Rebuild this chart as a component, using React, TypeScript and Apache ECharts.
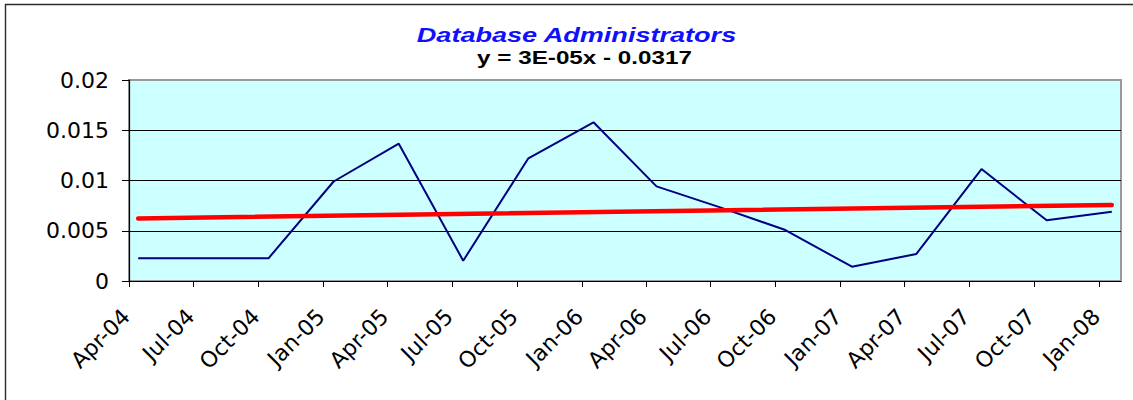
import React, { useEffect, useRef } from 'react';
import * as echarts from 'echarts';

const titleText = 'Database Administrators';
const equationText = 'y = 3E-05x - 0.0317';

const dates = [
  '2004-04-14', '2004-07-15', '2004-10-15', '2005-01-15',
  '2005-04-17', '2005-07-17', '2005-10-17', '2006-01-17',
  '2006-04-16', '2006-07-16', '2006-10-15', '2007-01-17',
  '2007-04-18', '2007-07-19', '2007-10-19', '2008-01-19',
];
const values = [
  0.00226, 0.00226, 0.00226, 0.0099,
  0.01366, 0.00202, 0.01221, 0.01579,
  0.00942, 0.0073, 0.00507, 0.00142,
  0.00269, 0.01114, 0.00604, 0.0069,
];
const tickDates = [
  '2004-04-01', '2004-07-01', '2004-10-01', '2005-01-01',
  '2005-04-01', '2005-07-01', '2005-10-01', '2006-01-01',
  '2006-04-01', '2006-07-01', '2006-10-01', '2007-01-01',
  '2007-04-01', '2007-07-01', '2007-10-01', '2008-01-01',
];
const tickLabels = [
  'Apr-04', 'Jul-04', 'Oct-04', 'Jan-05', 'Apr-05', 'Jul-05', 'Oct-05', 'Jan-06',
  'Apr-06', 'Jul-06', 'Oct-06', 'Jan-07', 'Apr-07', 'Jul-07', 'Oct-07', 'Jan-08',
];
const xMinDate = '2004-04-01';
const xMaxDate = '2008-02-01';
const yMin = 0;
const yMax = 0.02;
const yStep = 0.005;

function ts(d: string): number {
  const [y, m, day] = d.split('-').map(Number);
  return Date.UTC(y, m - 1, day);
}

function regression(xs: number[], ys: number[]) {
  const n = xs.length;
  const mx = xs.reduce((a, b) => a + b, 0) / n;
  const my = ys.reduce((a, b) => a + b, 0) / n;
  let sxy = 0;
  let sxx = 0;
  for (let i = 0; i < n; i++) {
    sxy += (xs[i] - mx) * (ys[i] - my);
    sxx += (xs[i] - mx) * (xs[i] - mx);
  }
  const slope = sxy / sxx;
  return (x: number) => my + slope * (x - mx);
}

export default function App() {
  const ref = useRef<HTMLDivElement>(null);

  useEffect(() => {
    if (!ref.current) return;
    const chart = echarts.init(ref.current, null, { renderer: 'svg' });
    const xs = dates.map(ts);
    const seriesData = xs.map((x, i) => [x, values[i]]);
    const fit = regression(xs, values);
    const first = xs[0];
    const last = xs[xs.length - 1];
    const trendData = [
      [first, fit(first)],
      [last, fit(last)],
    ];
    const tickTs = tickDates.map(ts);
    const labelFor = (v: number) => {
      const idx = tickTs.findIndex((t) => Math.abs(t - v) < 3600000);
      return idx >= 0 ? tickLabels[idx] : '';
    };

    chart.setOption({
      animation: false,
      backgroundColor: '#ffffff',
      grid: {
        left: 129,
        top: 80,
        width: 992,
        height: 201,
        show: true,
        backgroundColor: '#CCFFFF',
        borderColor: '#999999',
        borderWidth: 2,
      },
      graphic: [
        {
          type: 'rect',
          shape: { x: 5.5, y: 4.5, width: 1300, height: 600 },
          style: { fill: 'none', stroke: '#2a2a2a', lineWidth: 1.4 },
          silent: true,
        },
        {
          type: 'text',
          x: 576.5,
          y: 34.5,
          scaleX: 1.29,
          style: {
            text: titleText,
            fill: '#1010FF',
            font: 'italic bold 21px "Liberation Sans", Arial, sans-serif',
            textAlign: 'center',
            textVerticalAlign: 'middle',
          },
        },
        {
          type: 'text',
          x: 584.5,
          y: 58,
          scaleX: 1.31,
          style: {
            text: equationText,
            fill: '#000000',
            font: 'bold 18.5px "Liberation Sans", Arial, sans-serif',
            textAlign: 'center',
            textVerticalAlign: 'middle',
          },
        },
      ],
      xAxis: {
        type: 'value',
        min: ts(xMinDate),
        max: ts(xMaxDate),
        axisLine: { show: true, onZero: false, lineStyle: { color: '#000000', width: 1.2 } },
        axisTick: {
          show: true,
          customValues: tickTs,
          length: 6,
          lineStyle: { color: '#000000', width: 1 },
        },
        axisLabel: {
          customValues: tickTs,
          rotate: 45,
          margin: 29,
          padding: [0, 4, 0, 0],
          formatter: (v: number) => labelFor(v),
          color: '#000000',
          fontFamily: 'DejaVu Sans',
          fontSize: 22,
        },
        splitLine: { show: false },
      },
      yAxis: {
        type: 'value',
        min: yMin,
        max: yMax,
        interval: yStep,
        axisLine: { show: true, lineStyle: { color: '#000000', width: 1.2 } },
        axisTick: { show: true, length: 7, lineStyle: { color: '#000000', width: 1 } },
        axisLabel: {
          margin: 20,
          color: '#000000',
          fontFamily: 'DejaVu Sans',
          fontSize: 22,
          formatter: (v: number) => String(parseFloat(v.toFixed(4))),
        },
        splitLine: {
          show: true,
          showMaxLine: false,
          lineStyle: { color: '#000000', width: 1 },
        },
      },
      series: [
        {
          type: 'line',
          data: seriesData,
          symbol: 'none',
          lineStyle: { color: '#000080', width: 2 },
          z: 3,
        },
        {
          type: 'line',
          data: trendData,
          symbol: 'none',
          lineStyle: { color: '#FF0000', width: 4.5, cap: 'round' },
          z: 4,
        },
      ],
    });

    return () => {
      chart.dispose();
    };
  }, []);

  return (
    <div
      ref={ref}
      style={{ position: 'fixed', left: 0, top: 0, width: 1133, height: 400 }}
    />
  );
}
